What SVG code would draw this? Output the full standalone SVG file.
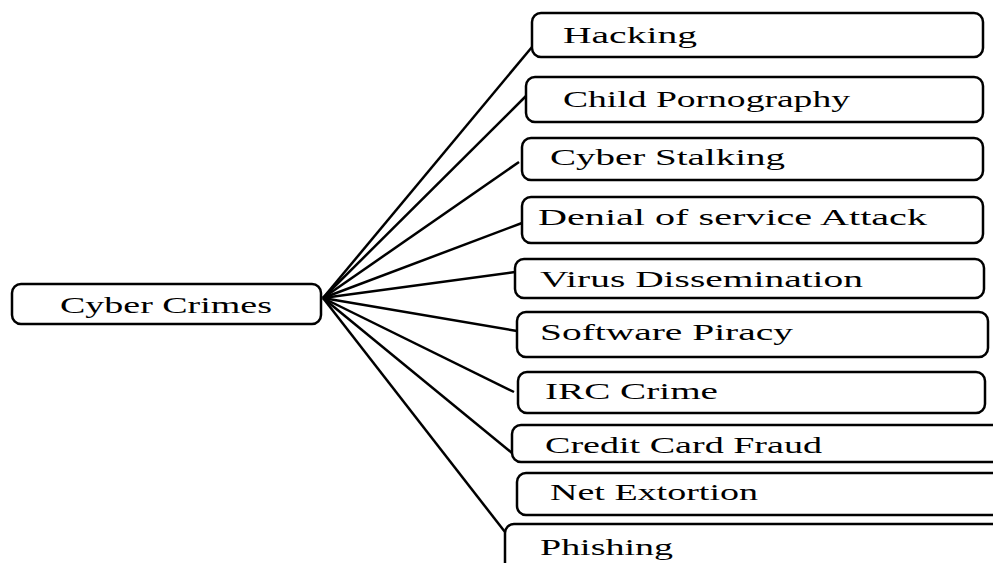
<svg xmlns="http://www.w3.org/2000/svg" width="993" height="563" viewBox="0 0 993 563">
<style>
.box{fill:#fff;stroke:#000;stroke-width:2.5}
.lbl{font-family:"Liberation Serif","Times New Roman",serif;font-size:23px;fill:#000}
.con line{stroke:#000;stroke-width:2.5}
</style>
<rect width="993" height="563" fill="#fff"/>
<g id="connectors" class="con">
<line x1="323" y1="298" x2="532" y2="47"/>
<line x1="323" y1="298" x2="526" y2="96"/>
<line x1="323" y1="298" x2="519" y2="162"/>
<line x1="323" y1="298" x2="522" y2="223"/>
<line x1="323" y1="298" x2="515" y2="272"/>
<line x1="323" y1="298" x2="517" y2="331"/>
<line x1="323" y1="298" x2="514" y2="392"/>
<line x1="323" y1="298" x2="512" y2="453"/>
<line x1="323" y1="298" x2="505" y2="532"/>
</g>
<g id="cyber-crimes"><rect class="box" x="12" y="284" width="309" height="40" rx="9"/><text class="lbl" x="60" y="313" textLength="212" lengthAdjust="spacingAndGlyphs">Cyber Crimes</text></g>
<g id="hacking"><rect class="box" x="532" y="13" width="451" height="44" rx="9"/><text class="lbl" x="563" y="43" textLength="134" lengthAdjust="spacingAndGlyphs">Hacking</text></g>
<g id="child-pornography"><rect class="box" x="526" y="77" width="457" height="45" rx="9"/><text class="lbl" x="563" y="107" textLength="287" lengthAdjust="spacingAndGlyphs">Child Pornography</text></g>
<g id="cyber-stalking"><rect class="box" x="522" y="138" width="461" height="42" rx="9"/><text class="lbl" x="550" y="165" textLength="235" lengthAdjust="spacingAndGlyphs">Cyber Stalking</text></g>
<g id="denial-of-service"><rect class="box" x="522" y="197" width="461" height="46" rx="9"/><text class="lbl" x="538" y="225" textLength="389" lengthAdjust="spacingAndGlyphs">Denial of service Attack</text></g>
<g id="virus-dissemination"><rect class="box" x="515" y="259" width="469" height="39" rx="9"/><text class="lbl" x="540" y="287" textLength="323" lengthAdjust="spacingAndGlyphs">Virus Dissemination</text></g>
<g id="software-piracy"><rect class="box" x="517" y="312" width="471" height="45" rx="9"/><text class="lbl" x="540" y="340" textLength="253" lengthAdjust="spacingAndGlyphs">Software Piracy</text></g>
<g id="irc-crime"><rect class="box" x="518" y="372" width="467" height="41" rx="9"/><text class="lbl" x="545" y="399" textLength="173" lengthAdjust="spacingAndGlyphs">IRC Crime</text></g>
<g id="credit-card-fraud"><rect class="box" x="512" y="425" width="500" height="37" rx="9"/><text class="lbl" x="545" y="453" textLength="277" lengthAdjust="spacingAndGlyphs">Credit Card Fraud</text></g>
<g id="net-extortion"><rect class="box" x="517" y="473" width="500" height="42" rx="9"/><text class="lbl" x="550" y="500" textLength="208" lengthAdjust="spacingAndGlyphs">Net Extortion</text></g>
<g id="phishing"><rect class="box" x="505" y="524" width="520" height="80" rx="9"/><text class="lbl" x="540" y="555" textLength="133" lengthAdjust="spacingAndGlyphs">Phishing</text></g>
</svg>
